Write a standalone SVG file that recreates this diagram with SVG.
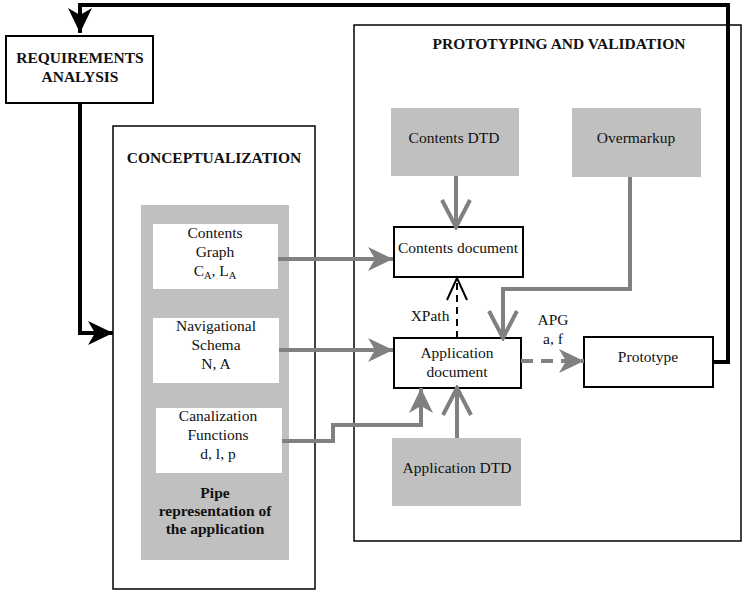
<svg xmlns="http://www.w3.org/2000/svg" width="743" height="591" viewBox="0 0 743 591">
<defs>
<style>
text{font-family:"Liberation Serif","Times New Roman",serif;font-size:15.5px;fill:#111;text-anchor:middle}
.b{font-weight:bold}
.frame{fill:#fff;stroke:#000;stroke-width:1.5}
.box{fill:#fff;stroke:#000;stroke-width:2}
.gbox{fill:#c0c0c0;stroke:none}
.wbox{fill:#fff;stroke:none}
.g{fill:none;stroke:#808080;stroke-width:4}
.k{fill:none;stroke:#000;stroke-width:4}
</style>
<marker id="gfill" markerUnits="userSpaceOnUse" markerWidth="26" markerHeight="26" refX="25" refY="12" orient="auto" viewBox="0 0 26 26"><path d="M0,0 L25,12 L0,24 L7,12 z" fill="#808080"/></marker>
<marker id="kfill" markerUnits="userSpaceOnUse" markerWidth="26" markerHeight="26" refX="25" refY="12" orient="auto" viewBox="0 0 26 26"><path d="M0,0 L25,12 L0,24 L7,12 z" fill="#000"/></marker>
<marker id="gopen" markerUnits="userSpaceOnUse" markerWidth="32" markerHeight="34" refX="27" refY="15" orient="auto" viewBox="-2 0 32 32"><path d="M0,1 L27,15 L0,29" fill="none" stroke="#808080" stroke-width="4"/></marker>
<marker id="kopen" markerUnits="userSpaceOnUse" markerWidth="26" markerHeight="26" refX="22" refY="11" orient="auto" viewBox="-2 0 26 24"><path d="M0,1 L22,11 L0,21" fill="none" stroke="#000" stroke-width="2"/></marker>
</defs>
<rect width="743" height="591" fill="#fff"/>

<g id="conceptualization">
<rect class="frame" x="113" y="126" width="202" height="463"/>
<text class="b" x="214" y="163">CONCEPTUALIZATION</text>
</g>
<g id="prototyping">
<rect class="frame" x="354" y="25" width="387" height="516"/>
<text class="b" x="559" y="49">PROTOTYPING AND VALIDATION</text>
</g>
<g id="requirements">
<rect class="box" x="6" y="36" width="147" height="67"/>
<text class="b" x="80" y="63">REQUIREMENTS</text>
<text class="b" x="80" y="82">ANALYSIS</text>
</g>
<g id="pipe">
<rect class="gbox" x="141" y="205" width="148" height="355"/>
<text class="b" x="215" y="498">Pipe</text>
<text class="b" x="215" y="516">representation of</text>
<text class="b" x="215" y="534">the application</text>
</g>
<g id="contents-graph">
<rect class="wbox" x="153" y="224" width="125" height="65"/>
<text x="215" y="238">Contents</text>
<text x="215" y="257">Graph</text>
<text x="215" y="276">C<tspan font-size="10.5" dy="3">A</tspan><tspan dy="-3">, L</tspan><tspan font-size="10.5" dy="3">A</tspan></text>
</g>
<g id="navigational-schema">
<rect class="wbox" x="153" y="318" width="126" height="65"/>
<text x="216" y="331">Navigational</text>
<text x="216" y="350">Schema</text>
<text x="216" y="369">N, A</text>
</g>
<g id="canalization-functions">
<rect class="wbox" x="156" y="408" width="126" height="65"/>
<text x="218" y="421">Canalization</text>
<text x="218" y="440">Functions</text>
<text x="218" y="459">d, l, p</text>
</g>
<g id="contents-dtd">
<rect class="gbox" x="391" y="108" width="128" height="68"/>
<text x="454" y="143">Contents DTD</text>
</g>
<g id="overmarkup">
<rect class="gbox" x="572" y="108" width="129" height="69"/>
<text x="636" y="143">Overmarkup</text>
</g>
<g id="contents-document">
<rect class="box" x="394" y="227" width="129" height="50"/>
<text x="458" y="253">Contents document</text>
</g>
<g id="application-document">
<rect class="box" x="394" y="338" width="127" height="50"/>
<text x="457" y="358">Application</text>
<text x="457" y="377">document</text>
</g>
<g id="prototype">
<rect class="box" x="584" y="337" width="129" height="50"/>
<text x="648" y="362">Prototype</text>
</g>
<g id="application-dtd">
<rect class="gbox" x="392" y="438" width="129" height="68"/>
<text x="457" y="473">Application DTD</text>
</g>

<g id="connectors">
<path class="k" d="M713,362 H728 V5 H80 V33" marker-end="url(#kfill)"/>
<path class="k" d="M80,103 V333 H113" marker-end="url(#kfill)"/>
<path class="g" d="M278,259 H393" marker-end="url(#gfill)"/>
<path class="g" d="M279,350 H393" marker-end="url(#gfill)"/>
<path class="g" d="M282,441 H333 V425 H421 V388" marker-end="url(#gfill)"/>
<path class="g" d="M456,176 V227" marker-end="url(#gopen)"/>
<path class="g" d="M630,177 V289 H503 V338" marker-end="url(#gopen)"/>
<path class="g" d="M457,438 V388" marker-end="url(#gopen)"/>
<path fill="none" stroke="#000" stroke-width="2" stroke-dasharray="7,5" d="M457,338 V278" marker-end="url(#kopen)"/>
<path class="g" stroke-dasharray="12,8" d="M521,361 H584" marker-end="url(#gfill)"/>
<text x="430" y="321">XPath</text>
<text x="553" y="325">APG</text>
<text x="553" y="344">a, f</text>
</g>
</svg>
